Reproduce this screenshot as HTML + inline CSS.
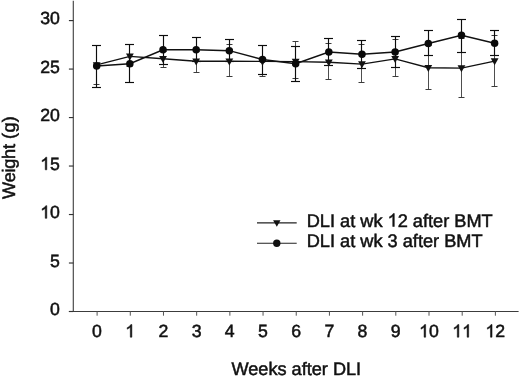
<!DOCTYPE html>
<html><head><meta charset="utf-8"><style>
html,body{margin:0;padding:0;background:#fff;overflow:hidden;}
svg{display:block;position:absolute;left:0;top:0;will-change:transform;filter:grayscale(1);}
text{text-rendering:geometricPrecision;}
</style></head><body>
<svg width="520" height="377" viewBox="0 0 520 377">
<rect width="520" height="377" fill="#fff"/>
<line x1="73.30" y1="0.80" x2="73.30" y2="311.90" stroke="#444" stroke-width="1.15"/>
<line x1="68.90" y1="311.45" x2="518.60" y2="311.45" stroke="#3c3c3c" stroke-width="1.1"/>
<line x1="68.90" y1="311.50" x2="73.40" y2="311.50" stroke="#333" stroke-width="1.15"/>
<line x1="68.90" y1="263.01" x2="73.40" y2="263.01" stroke="#333" stroke-width="1.15"/>
<line x1="68.90" y1="214.53" x2="73.40" y2="214.53" stroke="#333" stroke-width="1.15"/>
<line x1="68.90" y1="166.04" x2="73.40" y2="166.04" stroke="#333" stroke-width="1.15"/>
<line x1="68.90" y1="117.56" x2="73.40" y2="117.56" stroke="#333" stroke-width="1.15"/>
<line x1="68.90" y1="69.07" x2="73.40" y2="69.07" stroke="#333" stroke-width="1.15"/>
<line x1="68.90" y1="20.59" x2="73.40" y2="20.59" stroke="#333" stroke-width="1.15"/>
<line x1="97.10" y1="311.40" x2="97.10" y2="315.70" stroke="#555" stroke-width="1.0"/>
<line x1="130.29" y1="311.40" x2="130.29" y2="315.70" stroke="#555" stroke-width="1.0"/>
<line x1="163.48" y1="311.40" x2="163.48" y2="315.70" stroke="#555" stroke-width="1.0"/>
<line x1="196.67" y1="311.40" x2="196.67" y2="315.70" stroke="#555" stroke-width="1.0"/>
<line x1="229.86" y1="311.40" x2="229.86" y2="315.70" stroke="#555" stroke-width="1.0"/>
<line x1="263.05" y1="311.40" x2="263.05" y2="315.70" stroke="#555" stroke-width="1.0"/>
<line x1="296.24" y1="311.40" x2="296.24" y2="315.70" stroke="#555" stroke-width="1.0"/>
<line x1="329.43" y1="311.40" x2="329.43" y2="315.70" stroke="#555" stroke-width="1.0"/>
<line x1="362.62" y1="311.40" x2="362.62" y2="315.70" stroke="#555" stroke-width="1.0"/>
<line x1="395.81" y1="311.40" x2="395.81" y2="315.70" stroke="#555" stroke-width="1.0"/>
<line x1="429.00" y1="311.40" x2="429.00" y2="315.70" stroke="#555" stroke-width="1.0"/>
<line x1="462.19" y1="311.40" x2="462.19" y2="315.70" stroke="#555" stroke-width="1.0"/>
<line x1="495.38" y1="311.40" x2="495.38" y2="315.70" stroke="#555" stroke-width="1.0"/>
<line x1="96.50" y1="45.50" x2="96.50" y2="84.50" stroke="#3a3a3a" stroke-width="0.9"/>
<line x1="93.50" y1="45.50" x2="99.50" y2="45.50" stroke="#333" stroke-width="0.95"/>
<line x1="93.50" y1="84.50" x2="99.50" y2="84.50" stroke="#333" stroke-width="0.95"/>
<line x1="129.50" y1="44.50" x2="129.50" y2="66.50" stroke="#3a3a3a" stroke-width="0.9"/>
<line x1="126.50" y1="44.50" x2="132.50" y2="44.50" stroke="#333" stroke-width="0.95"/>
<line x1="126.50" y1="66.50" x2="132.50" y2="66.50" stroke="#333" stroke-width="0.95"/>
<line x1="163.50" y1="51.50" x2="163.50" y2="67.50" stroke="#3a3a3a" stroke-width="0.9"/>
<line x1="160.50" y1="51.50" x2="166.50" y2="51.50" stroke="#333" stroke-width="0.95"/>
<line x1="160.50" y1="67.50" x2="166.50" y2="67.50" stroke="#333" stroke-width="0.95"/>
<line x1="196.50" y1="51.50" x2="196.50" y2="72.50" stroke="#3a3a3a" stroke-width="0.9"/>
<line x1="193.50" y1="51.50" x2="199.50" y2="51.50" stroke="#333" stroke-width="0.95"/>
<line x1="193.50" y1="72.50" x2="199.50" y2="72.50" stroke="#333" stroke-width="0.95"/>
<line x1="229.50" y1="44.50" x2="229.50" y2="76.50" stroke="#3a3a3a" stroke-width="0.9"/>
<line x1="226.50" y1="44.50" x2="232.50" y2="44.50" stroke="#333" stroke-width="0.95"/>
<line x1="226.50" y1="76.50" x2="232.50" y2="76.50" stroke="#333" stroke-width="0.95"/>
<line x1="262.50" y1="45.50" x2="262.50" y2="76.50" stroke="#3a3a3a" stroke-width="0.9"/>
<line x1="259.50" y1="45.50" x2="265.50" y2="45.50" stroke="#333" stroke-width="0.95"/>
<line x1="259.50" y1="76.50" x2="265.50" y2="76.50" stroke="#333" stroke-width="0.95"/>
<line x1="295.50" y1="41.50" x2="295.50" y2="78.50" stroke="#3a3a3a" stroke-width="0.9"/>
<line x1="292.50" y1="41.50" x2="298.50" y2="41.50" stroke="#333" stroke-width="0.95"/>
<line x1="292.50" y1="78.50" x2="298.50" y2="78.50" stroke="#333" stroke-width="0.95"/>
<line x1="328.50" y1="43.50" x2="328.50" y2="79.50" stroke="#3a3a3a" stroke-width="0.9"/>
<line x1="325.50" y1="43.50" x2="331.50" y2="43.50" stroke="#333" stroke-width="0.95"/>
<line x1="325.50" y1="79.50" x2="331.50" y2="79.50" stroke="#333" stroke-width="0.95"/>
<line x1="361.50" y1="44.50" x2="361.50" y2="82.50" stroke="#3a3a3a" stroke-width="0.9"/>
<line x1="358.50" y1="44.50" x2="364.50" y2="44.50" stroke="#333" stroke-width="0.95"/>
<line x1="358.50" y1="82.50" x2="364.50" y2="82.50" stroke="#333" stroke-width="0.95"/>
<line x1="395.50" y1="39.50" x2="395.50" y2="76.50" stroke="#3a3a3a" stroke-width="0.9"/>
<line x1="392.50" y1="39.50" x2="398.50" y2="39.50" stroke="#333" stroke-width="0.95"/>
<line x1="392.50" y1="76.50" x2="398.50" y2="76.50" stroke="#333" stroke-width="0.95"/>
<line x1="428.50" y1="45.50" x2="428.50" y2="89.50" stroke="#3a3a3a" stroke-width="0.9"/>
<line x1="425.50" y1="45.50" x2="431.50" y2="45.50" stroke="#333" stroke-width="0.95"/>
<line x1="425.50" y1="89.50" x2="431.50" y2="89.50" stroke="#333" stroke-width="0.95"/>
<line x1="461.50" y1="38.50" x2="461.50" y2="97.50" stroke="#3a3a3a" stroke-width="0.9"/>
<line x1="458.50" y1="38.50" x2="464.50" y2="38.50" stroke="#333" stroke-width="0.95"/>
<line x1="458.50" y1="97.50" x2="464.50" y2="97.50" stroke="#333" stroke-width="0.95"/>
<line x1="494.50" y1="35.50" x2="494.50" y2="86.50" stroke="#3a3a3a" stroke-width="0.9"/>
<line x1="491.50" y1="35.50" x2="497.50" y2="35.50" stroke="#333" stroke-width="0.95"/>
<line x1="491.50" y1="86.50" x2="497.50" y2="86.50" stroke="#333" stroke-width="0.95"/>
<line x1="96.50" y1="45.50" x2="96.50" y2="87.50" stroke="#0c0c0c" stroke-width="1.15"/>
<line x1="92.00" y1="45.50" x2="101.00" y2="45.50" stroke="#0c0c0c" stroke-width="1.15"/>
<line x1="92.00" y1="87.50" x2="101.00" y2="87.50" stroke="#0c0c0c" stroke-width="1.15"/>
<line x1="129.50" y1="44.50" x2="129.50" y2="82.50" stroke="#0c0c0c" stroke-width="1.15"/>
<line x1="125.00" y1="44.50" x2="134.00" y2="44.50" stroke="#0c0c0c" stroke-width="1.15"/>
<line x1="125.00" y1="82.50" x2="134.00" y2="82.50" stroke="#0c0c0c" stroke-width="1.15"/>
<line x1="163.50" y1="35.50" x2="163.50" y2="64.50" stroke="#0c0c0c" stroke-width="1.15"/>
<line x1="159.00" y1="35.50" x2="168.00" y2="35.50" stroke="#0c0c0c" stroke-width="1.15"/>
<line x1="159.00" y1="64.50" x2="168.00" y2="64.50" stroke="#0c0c0c" stroke-width="1.15"/>
<line x1="196.50" y1="37.50" x2="196.50" y2="61.50" stroke="#0c0c0c" stroke-width="1.15"/>
<line x1="192.00" y1="37.50" x2="201.00" y2="37.50" stroke="#0c0c0c" stroke-width="1.15"/>
<line x1="192.00" y1="61.50" x2="201.00" y2="61.50" stroke="#0c0c0c" stroke-width="1.15"/>
<line x1="229.50" y1="39.50" x2="229.50" y2="61.50" stroke="#0c0c0c" stroke-width="1.15"/>
<line x1="225.00" y1="39.50" x2="234.00" y2="39.50" stroke="#0c0c0c" stroke-width="1.15"/>
<line x1="225.00" y1="61.50" x2="234.00" y2="61.50" stroke="#0c0c0c" stroke-width="1.15"/>
<line x1="262.50" y1="45.50" x2="262.50" y2="74.50" stroke="#0c0c0c" stroke-width="1.15"/>
<line x1="258.00" y1="45.50" x2="267.00" y2="45.50" stroke="#0c0c0c" stroke-width="1.15"/>
<line x1="258.00" y1="74.50" x2="267.00" y2="74.50" stroke="#0c0c0c" stroke-width="1.15"/>
<line x1="295.50" y1="46.50" x2="295.50" y2="81.50" stroke="#0c0c0c" stroke-width="1.15"/>
<line x1="291.00" y1="46.50" x2="300.00" y2="46.50" stroke="#0c0c0c" stroke-width="1.15"/>
<line x1="291.00" y1="81.50" x2="300.00" y2="81.50" stroke="#0c0c0c" stroke-width="1.15"/>
<line x1="328.50" y1="38.50" x2="328.50" y2="65.50" stroke="#0c0c0c" stroke-width="1.15"/>
<line x1="324.00" y1="38.50" x2="333.00" y2="38.50" stroke="#0c0c0c" stroke-width="1.15"/>
<line x1="324.00" y1="65.50" x2="333.00" y2="65.50" stroke="#0c0c0c" stroke-width="1.15"/>
<line x1="361.50" y1="40.50" x2="361.50" y2="68.50" stroke="#0c0c0c" stroke-width="1.15"/>
<line x1="357.00" y1="40.50" x2="366.00" y2="40.50" stroke="#0c0c0c" stroke-width="1.15"/>
<line x1="357.00" y1="68.50" x2="366.00" y2="68.50" stroke="#0c0c0c" stroke-width="1.15"/>
<line x1="395.50" y1="36.50" x2="395.50" y2="67.50" stroke="#0c0c0c" stroke-width="1.15"/>
<line x1="391.00" y1="36.50" x2="400.00" y2="36.50" stroke="#0c0c0c" stroke-width="1.15"/>
<line x1="391.00" y1="67.50" x2="400.00" y2="67.50" stroke="#0c0c0c" stroke-width="1.15"/>
<line x1="428.50" y1="30.50" x2="428.50" y2="55.50" stroke="#0c0c0c" stroke-width="1.15"/>
<line x1="424.00" y1="30.50" x2="433.00" y2="30.50" stroke="#0c0c0c" stroke-width="1.15"/>
<line x1="424.00" y1="55.50" x2="433.00" y2="55.50" stroke="#0c0c0c" stroke-width="1.15"/>
<line x1="461.50" y1="19.50" x2="461.50" y2="52.50" stroke="#0c0c0c" stroke-width="1.15"/>
<line x1="457.00" y1="19.50" x2="466.00" y2="19.50" stroke="#0c0c0c" stroke-width="1.15"/>
<line x1="457.00" y1="52.50" x2="466.00" y2="52.50" stroke="#0c0c0c" stroke-width="1.15"/>
<line x1="494.50" y1="30.50" x2="494.50" y2="55.50" stroke="#0c0c0c" stroke-width="1.15"/>
<line x1="490.00" y1="30.50" x2="499.00" y2="30.50" stroke="#0c0c0c" stroke-width="1.15"/>
<line x1="490.00" y1="55.50" x2="499.00" y2="55.50" stroke="#0c0c0c" stroke-width="1.15"/>
<polyline fill="none" stroke="#111" stroke-width="1.3" points="96.70,64.95 129.86,56.35 163.02,58.75 196.18,61.25 229.34,61.25 262.50,61.45 295.66,61.55 328.82,62.25 361.98,64.15 395.14,58.85 428.30,67.75 461.46,68.05 494.62,61.15"/>
<polyline fill="none" stroke="#111" stroke-width="1.5" points="96.70,66.05 129.86,63.75 163.02,49.85 196.18,49.75 229.34,50.65 262.50,59.45 295.66,63.75 328.82,51.95 361.98,54.35 395.14,51.95 428.30,43.55 461.46,35.15 494.62,43.15"/>
<polygon fill="#111" points="92.80,62.15 100.60,62.15 96.70,69.15"/>
<polygon fill="#111" points="125.96,53.55 133.76,53.55 129.86,60.55"/>
<polygon fill="#111" points="159.12,55.95 166.92,55.95 163.02,62.95"/>
<polygon fill="#111" points="192.28,58.45 200.08,58.45 196.18,65.45"/>
<polygon fill="#111" points="225.44,58.45 233.24,58.45 229.34,65.45"/>
<polygon fill="#111" points="258.60,58.65 266.40,58.65 262.50,65.65"/>
<polygon fill="#111" points="291.76,58.75 299.56,58.75 295.66,65.75"/>
<polygon fill="#111" points="324.92,59.45 332.72,59.45 328.82,66.45"/>
<polygon fill="#111" points="358.08,61.35 365.88,61.35 361.98,68.35"/>
<polygon fill="#111" points="391.24,56.05 399.04,56.05 395.14,63.05"/>
<polygon fill="#111" points="424.40,64.95 432.20,64.95 428.30,71.95"/>
<polygon fill="#111" points="457.56,65.25 465.36,65.25 461.46,72.25"/>
<polygon fill="#111" points="490.72,58.35 498.52,58.35 494.62,65.35"/>
<circle cx="96.70" cy="66.05" r="3.75" fill="#0a0a0a"/>
<circle cx="129.86" cy="63.75" r="3.75" fill="#0a0a0a"/>
<circle cx="163.02" cy="49.85" r="3.75" fill="#0a0a0a"/>
<circle cx="196.18" cy="49.75" r="3.75" fill="#0a0a0a"/>
<circle cx="229.34" cy="50.65" r="3.75" fill="#0a0a0a"/>
<circle cx="262.50" cy="59.45" r="3.75" fill="#0a0a0a"/>
<circle cx="295.66" cy="63.75" r="3.75" fill="#0a0a0a"/>
<circle cx="328.82" cy="51.95" r="3.75" fill="#0a0a0a"/>
<circle cx="361.98" cy="54.35" r="3.75" fill="#0a0a0a"/>
<circle cx="395.14" cy="51.95" r="3.75" fill="#0a0a0a"/>
<circle cx="428.30" cy="43.55" r="3.75" fill="#0a0a0a"/>
<circle cx="461.46" cy="35.15" r="3.75" fill="#0a0a0a"/>
<circle cx="494.62" cy="43.15" r="3.75" fill="#0a0a0a"/>
<line x1="257.00" y1="222.90" x2="296.70" y2="222.90" stroke="#222" stroke-width="1.1"/>
<line x1="257.00" y1="243.20" x2="296.70" y2="243.20" stroke="#222" stroke-width="1.1"/>
<polygon fill="#111" points="273.1,220.3 280.5,220.3 276.8,226.7"/>
<circle cx="276.8" cy="243.2" r="3.7" fill="#111"/>
<text x="306.7" y="226.5" style="font-family:'Liberation Sans',sans-serif;fill:#111;stroke:#111;stroke-width:0.5px;font-size:18.2px">DLI at wk <tspan style="fill:none;stroke:none">1</tspan>2 after BMT</text>
<path d="M763 0H583V-1147Q518 -1085 412.5 -1023T223 -930V-1104Q373 -1175 485 -1275T647 -1466H763Z" transform="translate(387.54,226.5) scale(0.008887)" fill="#111" stroke="#111" stroke-width="56.3"/>
<text x="306.7" y="247.4" style="font-family:'Liberation Sans',sans-serif;fill:#111;stroke:#111;stroke-width:0.5px;font-size:18.2px">DLI at wk 3 after BMT</text>
<text x="50.06" y="315.30" style="font-family:'Liberation Sans',sans-serif;fill:#111;stroke:#111;stroke-width:0.5px;font-size:17.7px">0</text>
<text x="50.06" y="266.81" style="font-family:'Liberation Sans',sans-serif;fill:#111;stroke:#111;stroke-width:0.5px;font-size:17.7px">5</text>
<path d="M763 0H583V-1147Q518 -1085 412.5 -1023T223 -930V-1104Q373 -1175 485 -1275T647 -1466H763Z" transform="translate(40.21,218.33) scale(0.008643)" fill="#111" stroke="#111" stroke-width="57.9"/>
<text x="50.06" y="218.33" style="font-family:'Liberation Sans',sans-serif;fill:#111;stroke:#111;stroke-width:0.5px;font-size:17.7px">0</text>
<path d="M763 0H583V-1147Q518 -1085 412.5 -1023T223 -930V-1104Q373 -1175 485 -1275T647 -1466H763Z" transform="translate(40.21,169.84) scale(0.008643)" fill="#111" stroke="#111" stroke-width="57.9"/>
<text x="50.06" y="169.84" style="font-family:'Liberation Sans',sans-serif;fill:#111;stroke:#111;stroke-width:0.5px;font-size:17.7px">5</text>
<text x="40.21" y="121.36" style="font-family:'Liberation Sans',sans-serif;fill:#111;stroke:#111;stroke-width:0.5px;font-size:17.7px">2</text>
<text x="50.06" y="121.36" style="font-family:'Liberation Sans',sans-serif;fill:#111;stroke:#111;stroke-width:0.5px;font-size:17.7px">0</text>
<text x="40.21" y="72.88" style="font-family:'Liberation Sans',sans-serif;fill:#111;stroke:#111;stroke-width:0.5px;font-size:17.7px">2</text>
<text x="50.06" y="72.88" style="font-family:'Liberation Sans',sans-serif;fill:#111;stroke:#111;stroke-width:0.5px;font-size:17.7px">5</text>
<text x="40.21" y="24.39" style="font-family:'Liberation Sans',sans-serif;fill:#111;stroke:#111;stroke-width:0.5px;font-size:17.7px">3</text>
<text x="50.06" y="24.39" style="font-family:'Liberation Sans',sans-serif;fill:#111;stroke:#111;stroke-width:0.5px;font-size:17.7px">0</text>
<text x="92.08" y="337.20" style="font-family:'Liberation Sans',sans-serif;fill:#111;stroke:#111;stroke-width:0.5px;font-size:17.7px">0</text>
<path d="M763 0H583V-1147Q518 -1085 412.5 -1023T223 -930V-1104Q373 -1175 485 -1275T647 -1466H763Z" transform="translate(125.27,337.20) scale(0.008643)" fill="#111" stroke="#111" stroke-width="57.9"/>
<text x="158.46" y="337.20" style="font-family:'Liberation Sans',sans-serif;fill:#111;stroke:#111;stroke-width:0.5px;font-size:17.7px">2</text>
<text x="191.65" y="337.20" style="font-family:'Liberation Sans',sans-serif;fill:#111;stroke:#111;stroke-width:0.5px;font-size:17.7px">3</text>
<text x="224.84" y="337.20" style="font-family:'Liberation Sans',sans-serif;fill:#111;stroke:#111;stroke-width:0.5px;font-size:17.7px">4</text>
<text x="258.03" y="337.20" style="font-family:'Liberation Sans',sans-serif;fill:#111;stroke:#111;stroke-width:0.5px;font-size:17.7px">5</text>
<text x="291.22" y="337.20" style="font-family:'Liberation Sans',sans-serif;fill:#111;stroke:#111;stroke-width:0.5px;font-size:17.7px">6</text>
<text x="324.41" y="337.20" style="font-family:'Liberation Sans',sans-serif;fill:#111;stroke:#111;stroke-width:0.5px;font-size:17.7px">7</text>
<text x="357.60" y="337.20" style="font-family:'Liberation Sans',sans-serif;fill:#111;stroke:#111;stroke-width:0.5px;font-size:17.7px">8</text>
<text x="390.79" y="337.20" style="font-family:'Liberation Sans',sans-serif;fill:#111;stroke:#111;stroke-width:0.5px;font-size:17.7px">9</text>
<path d="M763 0H583V-1147Q518 -1085 412.5 -1023T223 -930V-1104Q373 -1175 485 -1275T647 -1466H763Z" transform="translate(419.06,337.20) scale(0.008643)" fill="#111" stroke="#111" stroke-width="57.9"/>
<text x="428.90" y="337.20" style="font-family:'Liberation Sans',sans-serif;fill:#111;stroke:#111;stroke-width:0.5px;font-size:17.7px">0</text>
<path d="M763 0H583V-1147Q518 -1085 412.5 -1023T223 -930V-1104Q373 -1175 485 -1275T647 -1466H763Z" transform="translate(452.25,337.20) scale(0.008643)" fill="#111" stroke="#111" stroke-width="57.9"/>
<path d="M763 0H583V-1147Q518 -1085 412.5 -1023T223 -930V-1104Q373 -1175 485 -1275T647 -1466H763Z" transform="translate(462.09,337.20) scale(0.008643)" fill="#111" stroke="#111" stroke-width="57.9"/>
<path d="M763 0H583V-1147Q518 -1085 412.5 -1023T223 -930V-1104Q373 -1175 485 -1275T647 -1466H763Z" transform="translate(485.44,337.20) scale(0.008643)" fill="#111" stroke="#111" stroke-width="57.9"/>
<text x="495.28" y="337.20" style="font-family:'Liberation Sans',sans-serif;fill:#111;stroke:#111;stroke-width:0.5px;font-size:17.7px">2</text>
<text x="296.3" y="375.3" text-anchor="middle" style="font-family:'Liberation Sans',sans-serif;fill:#111;stroke:#111;stroke-width:0.5px;font-size:18.15px">Weeks after DLI</text>
<text transform="translate(14.6,198.9) rotate(-90)" text-anchor="start" style="font-family:'Liberation Sans',sans-serif;fill:#111;stroke:#111;stroke-width:0.5px;font-size:18.1px"><tspan style="letter-spacing:-0.22px">Weight</tspan><tspan style="letter-spacing:0.3px"> (g)</tspan></text>
</svg>
</body></html>
